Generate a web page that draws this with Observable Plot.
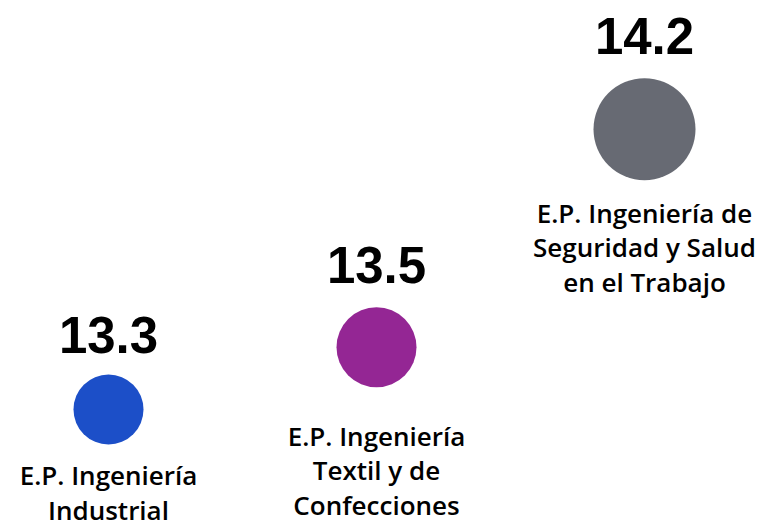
<!DOCTYPE html>
<html>
<head>
<meta charset="utf-8">
<script src="https://cdn.jsdelivr.net/npm/d3@7"></script>
<script src="https://cdn.jsdelivr.net/npm/@observablehq/plot@0.6"></script>
<style>
  html, body { margin: 0; padding: 0; background: #ffffff; }
</style>
</head>
<body>
<div id="chart"></div>
<script>
// ---- data ----
const categories = [
  "E.P. Ingeniería\nIndustrial",
  "E.P. Ingeniería\nTextil y de\nConfecciones",
  "E.P. Ingeniería de\nSeguridad y Salud\nen el Trabajo"
];
const values = [13.3, 13.5, 14.2];

// ---- styles / layout (not data) ----
const colors = ["#1c4fc8", "#942694", "#676a73"];
const valueDy = [-56, -64, -75];
const labelDy = [51, 74, 69];

const data = categories.map((c, i) => ({category: c, value: values[i]}));

const marks = [
  Plot.dot(data, {
    x: "category",
    y: "value",
    r: "value",
    fill: "category",
    stroke: null
  })
];
data.forEach((d, i) => {
  marks.push(Plot.text([d], {
    x: "category",
    y: "value",
    text: v => v.value.toFixed(1),
    lineAnchor: "bottom",
    dy: valueDy[i],
    fontSize: 51,
    fontWeight: "bold",
    fontFamily: "Liberation Sans, Arial, sans-serif",
    fill: "#000000"
  }));
  marks.push(Plot.text([d], {
    x: "category",
    y: "value",
    text: "category",
    lineAnchor: "top",
    lineHeight: 1.33,
    dy: labelDy[i],
    fontSize: 26,
    fontWeight: 600,
    fontFamily: "Open Sans, sans-serif",
    fill: "#000000"
  }));
});

const chart = Plot.plot({
  width: 771,
  height: 523,
  margin: 0,
  x: {type: "point", domain: categories, range: [108, 644], padding: 0, axis: null},
  y: {domain: [12.934, 14.613], range: [523, 0], axis: null},
  r: {type: "linear", domain: [13.3, 13.5, 14.2], range: [35, 40, 51]},
  color: {domain: categories, range: colors},
  style: {background: "#ffffff", overflow: "visible"},
  marks
});
document.getElementById("chart").appendChild(chart);
</script>
</body>
</html>
